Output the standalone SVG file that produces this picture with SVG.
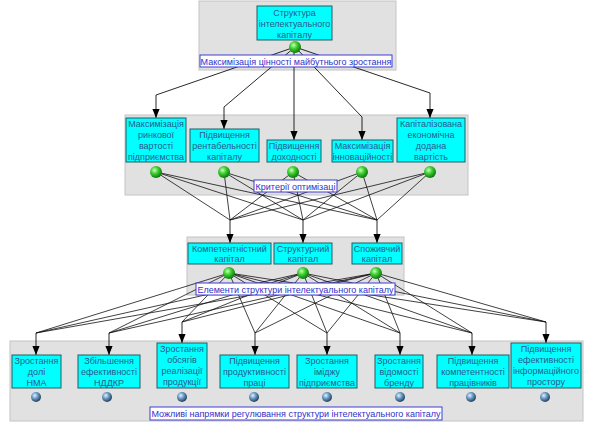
<svg xmlns="http://www.w3.org/2000/svg" width="598" height="428" viewBox="0 0 598 428">
<defs>
<style>
.panel{fill:#e1e1e1;stroke:#c4c4c4;stroke-width:1}
.box{fill:#00ffff;stroke:#1f5f66;stroke-width:1}
.bt{font-family:"Liberation Sans",Arial,sans-serif;font-size:9px;fill:#2a5a8c;text-anchor:middle}
.lbl{fill:#ffffff;stroke:#3d3dd6;stroke-width:1}
.lt{font-family:"Liberation Sans",Arial,sans-serif;font-size:9px;fill:#3030c8;text-anchor:middle}
.ln{fill:none;stroke:#111;stroke-width:0.8}
.ar{fill:none;stroke:#111;stroke-width:0.9;marker-end:url(#ah)}
</style>
<marker id="ah" viewBox="0 0 10 8" refX="10" refY="4" markerWidth="9" markerHeight="8" markerUnits="userSpaceOnUse" orient="auto">
<path d="M0,0 L10,4 L0,8 z" fill="#000"/>
</marker>
<radialGradient id="gg" cx="0.38" cy="0.35" r="0.65">
<stop offset="0" stop-color="#c8ffc0"/>
<stop offset="0.45" stop-color="#40d030"/>
<stop offset="1" stop-color="#0d7a10"/>
</radialGradient>
<radialGradient id="bg" cx="0.38" cy="0.35" r="0.65">
<stop offset="0" stop-color="#e4f0ff"/>
<stop offset="0.45" stop-color="#6f9fc8"/>
<stop offset="1" stop-color="#23415e"/>
</radialGradient>
</defs>

<g id="panels">
<rect class="panel" x="199" y="1" width="197" height="69"/>
<rect class="panel" x="125" y="115" width="343" height="80"/>
<rect class="panel" x="187" y="237" width="217" height="58"/>
<rect class="panel" x="10" y="341" width="573" height="80"/>
</g>

<g id="connectors">
<polyline class="ar" points="295,47 156,95 156,118"/>
<polyline class="ar" points="295,47 224,107 224,129"/>
<polyline class="ar" points="294,47 294,140"/>
<polyline class="ar" points="295,47 362,117 362,140"/>
<polyline class="ar" points="295,47 430,93 430,118"/>

<path class="ln" d="M156,172 L230,220 M156,172 L303,220 M156,172 L377,220 M224,172 L230,220 M224,172 L303,220 M224,172 L377,220 M293,172 L230,220 M293,172 L303,220 M293,172 L377,220 M362,172 L230,220 M362,172 L303,220 M362,172 L377,220 M430,172 L230,220 M430,172 L303,220 M430,172 L377,220"/>
<polyline class="ar" points="230,220 230,243"/>
<polyline class="ar" points="303,220 303,243"/>
<polyline class="ar" points="377,220 377,243"/>

<path class="ln" d="M229,273 L36,333 M303,273 L36,333 M376,273 L36,333 M229,273 L109,333 M303,273 L109,333 M376,273 L109,333 M229,273 L182,322 M303,273 L182,322 M376,273 L182,322 M229,273 L255,333 M303,273 L255,333 M376,273 L255,333 M229,273 L327,333 M303,273 L327,333 M376,273 L327,333 M229,273 L400,333 M303,273 L400,333 M376,273 L400,333 M229,273 L472,333 M303,273 L472,333 M376,273 L472,333 M229,273 L546,322 M303,273 L546,322 M376,273 L546,322"/>
<polyline class="ar" points="36,333 36,355"/>
<polyline class="ar" points="109,333 109,355"/>
<polyline class="ar" points="182,322 182,343"/>
<polyline class="ar" points="255,333 255,355"/>
<polyline class="ar" points="327,333 327,355"/>
<polyline class="ar" points="400,333 400,355"/>
<polyline class="ar" points="472,333 472,355"/>
<polyline class="ar" points="546,322 546,343"/>
</g>

<g id="n-root">
<rect class="box" x="257" y="6" width="75" height="34"/>
<text class="bt" x="294.5" y="15.5">Структура</text>
<text class="bt" x="294.5" y="27">інтелектуального</text>
<text class="bt" x="294.5" y="38">капіталу</text>
<circle cx="295" cy="47" r="6" fill="url(#gg)"/>
</g>

<g id="n-c1">
<rect class="box" x="126" y="118" width="60" height="44"/>
<text class="bt" x="156" y="126.5">Максимізація</text>
<text class="bt" x="156" y="137.5">ринкової</text>
<text class="bt" x="156" y="148.5">вартості</text>
<text class="bt" x="156" y="159.5">підприємства</text>
<circle cx="156" cy="172" r="6" fill="url(#gg)"/>
</g>
<g id="n-c2">
<rect class="box" x="190" y="129" width="69" height="33"/>
<text class="bt" x="224.5" y="137.5">Підвищення</text>
<text class="bt" x="224.5" y="148.5">рентабельності</text>
<text class="bt" x="224.5" y="159.5">капіталу</text>
<circle cx="224" cy="172" r="6" fill="url(#gg)"/>
</g>
<g id="n-c3">
<rect class="box" x="267" y="140" width="54" height="22"/>
<text class="bt" x="294" y="148.5">Підвищення</text>
<text class="bt" x="294" y="159.5">доходності</text>
<circle cx="293" cy="172" r="6" fill="url(#gg)"/>
</g>
<g id="n-c4">
<rect class="box" x="332" y="140" width="61" height="22"/>
<text class="bt" x="362.5" y="148.5">Максимізація</text>
<text class="bt" x="362.5" y="159.5">інноваційності</text>
<circle cx="362" cy="172" r="6" fill="url(#gg)"/>
</g>
<g id="n-c5">
<rect class="box" x="397" y="118" width="68" height="44"/>
<text class="bt" x="431" y="126.5">Капіталізована</text>
<text class="bt" x="431" y="137.5">економічна</text>
<text class="bt" x="431" y="148.5">додана</text>
<text class="bt" x="431" y="159.5">вартість</text>
<circle cx="430" cy="172" r="6" fill="url(#gg)"/>
</g>

<g id="n-e1">
<rect class="box" x="188" y="243" width="83" height="21"/>
<text class="bt" x="229.5" y="251.5">Компетентністний</text>
<text class="bt" x="229.5" y="262">капітал</text>
<circle cx="229" cy="273" r="6" fill="url(#gg)"/>
</g>
<g id="n-e2">
<rect class="box" x="274" y="243" width="58" height="21"/>
<text class="bt" x="303" y="251.5">Структурний</text>
<text class="bt" x="303" y="262">капітал</text>
<circle cx="303" cy="273" r="6" fill="url(#gg)"/>
</g>
<g id="n-e3">
<rect class="box" x="352" y="243" width="50" height="21"/>
<text class="bt" x="377" y="251.5">Споживчий</text>
<text class="bt" x="377" y="262">капітал</text>
<circle cx="376" cy="273" r="6" fill="url(#gg)"/>
</g>

<g id="n-d1">
<rect class="box" x="12" y="355" width="49" height="33"/>
<text class="bt" x="36.5" y="363.5">Зростання</text>
<text class="bt" x="36.5" y="374.5">долі</text>
<text class="bt" x="36.5" y="385.5">НМА</text>
<circle cx="36" cy="397" r="5" fill="url(#bg)"/>
</g>
<g id="n-d2">
<rect class="box" x="78" y="355" width="62" height="33"/>
<text class="bt" x="109" y="363.5">Збільшення</text>
<text class="bt" x="109" y="374.5">ефективності</text>
<text class="bt" x="109" y="385.5">НДДКР</text>
<circle cx="107" cy="397" r="5" fill="url(#bg)"/>
</g>
<g id="n-d3">
<rect class="box" x="157" y="343" width="50" height="45"/>
<text class="bt" x="182" y="351.5">Зростання</text>
<text class="bt" x="182" y="362.5">обсягів</text>
<text class="bt" x="182" y="373.5">реалізації</text>
<text class="bt" x="182" y="384.5">продукції</text>
<circle cx="182" cy="397" r="5" fill="url(#bg)"/>
</g>
<g id="n-d4">
<rect class="box" x="220" y="355" width="69" height="33"/>
<text class="bt" x="254.5" y="363.5">Підвищення</text>
<text class="bt" x="254.5" y="374.5">продуктивності</text>
<text class="bt" x="254.5" y="385.5">праці</text>
<circle cx="254" cy="397" r="5" fill="url(#bg)"/>
</g>
<g id="n-d5">
<rect class="box" x="297" y="355" width="60" height="33"/>
<text class="bt" x="327" y="363.5">Зростання</text>
<text class="bt" x="327" y="374.5">іміджу</text>
<text class="bt" x="327" y="385.5">підприємства</text>
<circle cx="327" cy="397" r="5" fill="url(#bg)"/>
</g>
<g id="n-d6">
<rect class="box" x="375" y="355" width="48" height="33"/>
<text class="bt" x="399" y="363.5">Зростання</text>
<text class="bt" x="399" y="374.5">відомості</text>
<text class="bt" x="399" y="385.5">бренду</text>
<circle cx="400" cy="397" r="5" fill="url(#bg)"/>
</g>
<g id="n-d7">
<rect class="box" x="437" y="355" width="72" height="33"/>
<text class="bt" x="473" y="363.5">Підвищення</text>
<text class="bt" x="473" y="374.5">компетентності</text>
<text class="bt" x="473" y="385.5">працівників</text>
<circle cx="471" cy="397" r="5" fill="url(#bg)"/>
</g>
<g id="n-d8">
<rect class="box" x="511" y="343" width="70" height="45"/>
<text class="bt" x="546" y="351.5">Підвищення</text>
<text class="bt" x="546" y="362.5">ефективності</text>
<text class="bt" x="546" y="373.5">інформаційного</text>
<text class="bt" x="546" y="384.5">простору</text>
<circle cx="545" cy="397" r="5" fill="url(#bg)"/>
</g>

<g id="labels">
<rect class="lbl" x="200" y="55" width="192" height="12"/>
<text class="lt" x="296" y="64.5">Максимізація цінності майбутнього зростання</text>
<rect class="lbl" x="254" y="180" width="83" height="12"/>
<text class="lt" x="295.5" y="189.5">Критерії оптимізаці</text>
<rect class="lbl" x="196" y="283" width="199" height="12"/>
<text class="lt" x="295.5" y="292.5">Елементи структури інтелектуального капіталу</text>
<rect class="lbl" x="150" y="407" width="292" height="13"/>
<text class="lt" x="296" y="416.5">Можливі напрямки регулювання структури інтелектуального капіталу</text>
</g>
</svg>
